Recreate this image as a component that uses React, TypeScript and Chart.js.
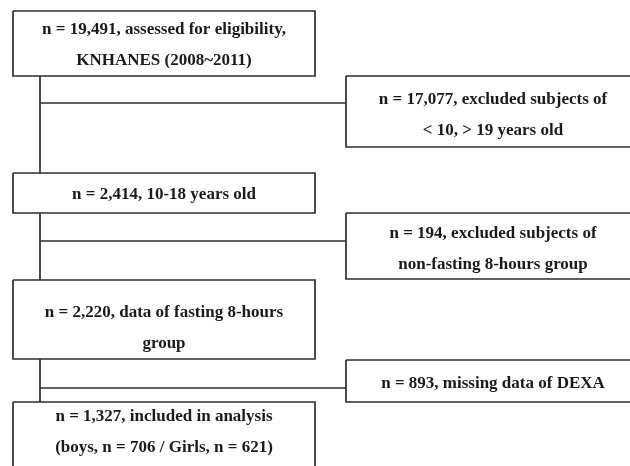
import React, { useEffect, useRef } from "react";
import { Chart, registerables } from "chart.js";

Chart.register(...registerables);

// ---- data ----
const counts = [19491, 17077, 2414, 194, 2220, 893, 1327];
const firstLineSuffix = [
  ", assessed for eligibility,",
  ", excluded subjects of",
  ", 10-18 years old",
  ", excluded subjects of",
  ", data of fasting 8-hours",
  ", missing data of DEXA",
  ", included in analysis",
];
const secondLines = [
  "KNHANES (2008~2011)",
  "< 10, > 19 years old",
  "",
  "non-fasting 8-hours group",
  "group",
  "",
  "(boys, n = 706 / Girls, n = 621)",
];

// ---- layout (pixel-space data coords of the scales) ----
const boxX0 = [13, 346, 13, 346, 13, 346, 13];
const boxX1 = [315, 640, 315, 640, 315, 640, 315];
const boxY0 = [11, 76, 173, 213, 280, 360, 402];
const boxY1 = [76, 147, 213, 279, 359, 402, 490];
const textBase1 = [33.5, 103.5, 198.5, 237.5, 316.5, 387.5, 420.5];
const lineGap = 31;
const trunkX = 40;
const branchY = [103, 241, 388];
const branchToBox = [1, 3, 5];

const W = 630;
const H = 466;
const stroke = "#2e2e2e";

export default function App() {
  const ref = useRef<HTMLCanvasElement | null>(null);

  useEffect(() => {
    document.body.style.margin = "0";
    const canvas = ref.current;
    if (!canvas) return;

    const datasets: any[] = [];
    counts.forEach((_, i) => {
      datasets.push({
        data: [
          { x: boxX0[i], y: boxY0[i] },
          { x: boxX1[i], y: boxY0[i] },
          { x: boxX1[i], y: boxY1[i] },
          { x: boxX0[i], y: boxY1[i] },
          { x: boxX0[i], y: boxY0[i] },
        ],
        showLine: true,
        borderColor: stroke,
        borderWidth: 1.7,
        pointRadius: 0,
        fill: false,
        tension: 0,
      });
    });
    const mainBoxes = [0, 2, 4, 6];
    for (let k = 0; k < mainBoxes.length - 1; k++) {
      const a = mainBoxes[k];
      const b = mainBoxes[k + 1];
      datasets.push({
        data: [
          { x: trunkX, y: boxY1[a] },
          { x: trunkX, y: boxY0[b] },
        ],
        showLine: true,
        borderColor: stroke,
        borderWidth: 1.7,
        pointRadius: 0,
      });
    }
    branchY.forEach((y, k) => {
      datasets.push({
        data: [
          { x: trunkX, y },
          { x: boxX0[branchToBox[k]], y },
        ],
        showLine: true,
        borderColor: stroke,
        borderWidth: 1.7,
        pointRadius: 0,
      });
    });

    const textPlugin = {
      id: "boxText",
      afterDatasetsDraw(chart: any) {
        const { ctx, scales } = chart;
        const xs = scales.x;
        const ys = scales.y;
        ctx.save();
        ctx.fillStyle = "#1a1a1a";
        ctx.font = 'bold 17px "Liberation Serif", "Times New Roman", serif';
        ctx.textAlign = "center";
        ctx.textBaseline = "alphabetic";
        counts.forEach((n, i) => {
          const cx = xs.getPixelForValue((boxX0[i] + boxX1[i]) / 2);
          const l1 = "n = " + n.toLocaleString("en-US") + firstLineSuffix[i];
          ctx.fillText(l1, cx, ys.getPixelForValue(textBase1[i]));
          if (secondLines[i]) {
            ctx.fillText(secondLines[i], cx, ys.getPixelForValue(textBase1[i] + lineGap));
          }
        });
        ctx.restore();
      },
    };

    const chart = new Chart(canvas, {
      type: "scatter",
      data: { datasets },
      options: {
        responsive: false,
        animation: false,
        layout: { padding: 0 },
        scales: {
          x: { type: "linear", min: 0, max: W, display: false },
          y: { type: "linear", min: 0, max: H, reverse: true, display: false },
        },
        plugins: {
          legend: { display: false },
          tooltip: { enabled: false },
        },
      },
      plugins: [textPlugin],
    });
    return () => chart.destroy();
  }, []);

  return (
    <div style={{ width: W, height: H, background: "#ffffff" }}>
      <canvas ref={ref} width={W} height={H} style={{ display: "block" }} />
    </div>
  );
}
